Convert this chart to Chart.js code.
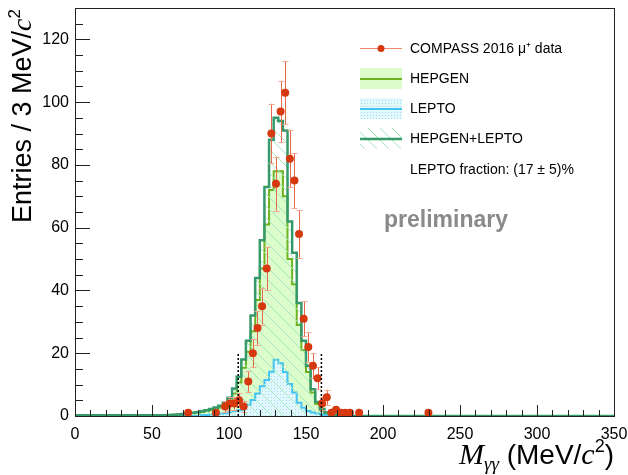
<!DOCTYPE html>
<html>
<head>
<meta charset="utf-8">
<script src="https://cdn.jsdelivr.net/npm/chart.js@4.4.1/dist/chart.umd.min.js"></script>
<style>
  html, body { margin: 0; padding: 0; background: #fff; }
  #wrap { width: 628px; height: 475px; }
</style>
</head>
<body>
<div id="wrap"><canvas id="myChart" width="628" height="475"></canvas></div>
<script>
// measured two-photon mass spectrum (bin centres, entries, errors)
var dataMass = [73.5, 91.5, 97.5, 100.5, 103.5, 106.5, 109.5, 112.5, 115.5, 118.5, 121.5, 124.5,
  127.5, 130.5, 133.5, 136.5, 139.5, 142.5, 145.5, 148.5, 151.5, 154.5, 157.5, 160.5,
  163.5, 166.5, 169.5, 172.5, 175.5, 178.5, 184.5, 229.5];
var dataCounts = [1, 1, 3, 4, 4, 5, 3, 11, 20, 28, 35, 47,
  90, 74, 97, 103, 82, 75, 58, 31, 22, 16, 12, 4,
  6, 1, 2, 1, 1, 1, 1, 1];
var dataErrors = [1, 1, 1.7, 2, 2, 2.2, 1.7, 3.3, 4.5, 5.3, 5.9, 6.9,
  9.5, 8.6, 9.8, 10.1, 9.1, 8.7, 7.6, 5.6, 4.7, 4, 3.5, 2,
  2.4, 1, 1.4, 1, 1, 1, 1, 1];

// simulation histograms, 3 MeV bins starting at 60 MeV
var binWidth = 3;
var mcStart = 60;
var hepgen = [0.2, 0.3, 0.4, 0.5, 0.6, 0.8, 0.9, 1.1, 1.3, 1.6,
  1.9, 2.3, 2.7, 3.4, 4.6, 7.2, 10.7, 15.4, 20.5, 27,
  37, 47, 61, 72, 78, 78, 70, 50, 42, 29,
  21, 14, 7.5, 3.8, 1.8, 0.9, 0.5, 0.3, 0.2, 0.1];
var lepto = [0, 0, 0, 0, 0, 0, 0, 0, 0.2, 0.3,
  0.4, 0.5, 0.7, 0.9, 1.2, 1.6, 1.8, 2.6, 3.6, 5.1,
  7.2, 9.5, 11.5, 14.1, 17.9, 16.8, 14, 10.2, 7.5, 4.2,
  2.6, 1.6, 1.1, 0.8, 0.4, 0.2, 0.1, 0, 0, 0];
var hepgenLepto = [0.2, 0.3, 0.4, 0.5, 0.6, 0.8, 1.0, 1.2, 1.5, 1.8,
  2.2, 2.7, 3.3, 4.2, 5.8, 8.8, 12.5, 18, 24, 32,
  44, 56, 73, 88, 95, 94, 91, 62, 52, 36,
  24, 16, 8.5, 4.5, 2.2, 1.1, 0.6, 0.3, 0.2, 0.1];

// signal window markers
var windowEdges = [106, 160];
var windowHeight = 20;

var xTicks = [0, 50, 100, 150, 200, 250, 300, 350];
var yTicks = [0, 20, 40, 60, 80, 100, 120];

var SANS = '"Liberation Sans", Arial, Helvetica, sans-serif';
var SERIF = '"Liberation Serif", "Times New Roman", serif';

var C_OLIVE = '#6db31f';
var C_GREEN = '#35996a';
var C_CYAN = '#45c3f2';
var C_RED = '#d6390f';
var C_FILL = '#dcfccb';

function stepPoints(values) {
  var pts = [{x: 0, y: 0}];
  for (var i = 0; i < values.length; i++) {
    pts.push({x: mcStart + i * binWidth, y: values[i]});
  }
  pts.push({x: mcStart + values.length * binWidth, y: 0});
  pts.push({x: 350, y: 0});
  return pts;
}

var canvas = document.getElementById('myChart');
var ctx = canvas.getContext('2d');

function hatchPattern() {
  var c = document.createElement('canvas');
  c.width = 12; c.height = 12;
  var g = c.getContext('2d');
  g.strokeStyle = '#a2e8bd';
  g.lineWidth = 1;
  g.beginPath();
  g.moveTo(0, 0); g.lineTo(12, 12);
  g.moveTo(-6, 6); g.lineTo(6, 18);
  g.moveTo(6, -6); g.lineTo(18, 6);
  g.stroke();
  return ctx.createPattern(c, 'repeat');
}

function dotPattern() {
  var c = document.createElement('canvas');
  c.width = 3; c.height = 3;
  var g = c.getContext('2d');
  g.fillStyle = '#e2f8fd';
  g.fillRect(0, 0, 3, 3);
  g.fillStyle = '#9fdff5';
  g.fillRect(1, 1, 1, 1);
  return ctx.createPattern(c, 'repeat');
}

var hatch = hatchPattern();
var dots = dotPattern();

// error bars under the data markers, frame, ticks, titles and legend on top
var decor = {
  id: 'decor',
  beforeDatasetDraw: function (chart, args) {
    if (args.index !== 3) return;
    var g = chart.ctx, xs = chart.scales.x, ys = chart.scales.y;
    g.save();
    g.lineWidth = 1;
    for (var i = 0; i < dataMass.length; i++) {
      var px = Math.round(xs.getPixelForValue(dataMass[i])) + 0.5;
      var yc = ys.getPixelForValue(dataCounts[i]);
      var top = ys.getPixelForValue(dataCounts[i] + dataErrors[i]);
      var bot = ys.getPixelForValue(Math.max(0, dataCounts[i] - dataErrors[i]));
      if (yc - top <= 4.5) continue;
      g.strokeStyle = '#e8694a';
      g.beginPath(); g.moveTo(px, top); g.lineTo(px, bot); g.stroke();
      g.strokeStyle = '#f4a890';
      g.beginPath();
      g.moveTo(px - 3, Math.round(top) + 0.5); g.lineTo(px + 3, Math.round(top) + 0.5);
      g.moveTo(px - 3, Math.round(bot) + 0.5); g.lineTo(px + 3, Math.round(bot) + 0.5);
      g.stroke();
    }
    g.restore();
  },
  afterDraw: function (chart) {
    var g = chart.ctx, a = chart.chartArea, xs = chart.scales.x, ys = chart.scales.y;
    g.save();

    // window markers
    g.strokeStyle = '#000';
    g.lineWidth = 1.5;
    g.setLineDash([2, 2]);
    windowEdges.forEach(function (m) {
      var px = xs.getPixelForValue(m);
      g.beginPath();
      g.moveTo(px, ys.getPixelForValue(0));
      g.lineTo(px, ys.getPixelForValue(windowHeight));
      g.stroke();
    });
    g.setLineDash([]);

    // frame and inner ticks
    g.strokeStyle = '#222';
    g.lineWidth = 1;
    g.strokeRect(a.left + 0.5, a.top + 0.5, a.right - a.left, a.bottom - a.top);
    g.beginPath();
    for (var v = 0; v <= 130; v += 5) {
      var py = Math.round(ys.getPixelForValue(v)) + 0.5;
      g.moveTo(a.left, py);
      g.lineTo(a.left + (v % 20 === 0 ? 15 : 8), py);
    }
    for (var m = 0; m <= 350; m += 10) {
      var px = Math.round(xs.getPixelForValue(m)) + 0.5;
      g.moveTo(px, a.bottom);
      g.lineTo(px, a.bottom - (m % 50 === 0 ? 11 : 6));
    }
    g.stroke();

    // x axis title
    g.fillStyle = '#000';
    g.textBaseline = 'alphabetic';
    var xParts = [
      {t: 'M', f: 'italic 30px ' + SERIF, dy: 0},
      {t: '\u03b3\u03b3', f: 'italic 19px ' + SERIF, dy: 6},
      {t: ' (MeV/', f: '28px ' + SANS, dy: 0},
      {t: 'c', f: 'italic 30px ' + SERIF, dy: 0},
      {t: '2', f: '18px ' + SANS, dy: -12},
      {t: ')', f: '28px ' + SANS, dy: 0}
    ];
    var w = 0;
    xParts.forEach(function (p) { g.font = p.f; p.w = g.measureText(p.t).width; w += p.w; });
    var cx = a.right - w;
    xParts.forEach(function (p) { g.font = p.f; g.fillText(p.t, cx, 464 + p.dy); cx += p.w; });

    // y axis title, rotated, ending at the top of the frame
    var yParts = [
      {t: 'Entries / 3 MeV/', f: '27px ' + SANS, dy: 0},
      {t: 'c', f: 'italic 28px ' + SERIF, dy: 0},
      {t: '2', f: '17px ' + SANS, dy: -11}
    ];
    w = 0;
    yParts.forEach(function (p) { g.font = p.f; p.w = g.measureText(p.t).width; w += p.w; });
    g.save();
    g.translate(31, a.top + 1);
    g.rotate(-Math.PI / 2);
    cx = -w;
    yParts.forEach(function (p) { g.font = p.f; g.fillText(p.t, cx, p.dy); cx += p.w; });
    g.restore();

    // preliminary stamp
    g.font = 'bold 23px ' + SANS;
    g.fillStyle = '#8a8a8a';
    g.textAlign = 'center';
    g.fillText('preliminary', 446, 227);
    g.textAlign = 'left';

    // legend
    var lx = 360, lw = 42, tx = 410;
    g.lineWidth = 1;
    g.strokeStyle = '#f08a6e';
    g.beginPath(); g.moveTo(lx, 48.5); g.lineTo(lx + lw, 48.5); g.stroke();
    g.fillStyle = C_RED;
    g.beginPath(); g.arc(lx + lw / 2, 48.5, 3.5, 0, Math.PI * 2); g.fill();

    g.fillStyle = C_FILL;
    g.fillRect(lx, 68, lw, 21);
    g.strokeStyle = C_OLIVE; g.lineWidth = 2;
    g.beginPath(); g.moveTo(lx, 79); g.lineTo(lx + lw, 79); g.stroke();

    g.fillStyle = dots;
    g.fillRect(lx, 98, lw, 21);
    g.strokeStyle = C_CYAN;
    g.beginPath(); g.moveTo(lx, 109); g.lineTo(lx + lw, 109); g.stroke();

    g.fillStyle = hatch;
    g.fillRect(lx, 128, lw, 21);
    g.strokeStyle = C_GREEN; g.lineWidth = 2.5;
    g.beginPath(); g.moveTo(lx, 139); g.lineTo(lx + lw, 139); g.stroke();

    g.fillStyle = '#000';
    g.font = '14px ' + SANS;
    g.textBaseline = 'middle';
    g.fillText('COMPASS 2016 \u03bc\u207a data', tx, 49);
    g.fillText('HEPGEN', tx, 79);
    g.fillText('LEPTO', tx, 109);
    g.fillText('HEPGEN+LEPTO', tx, 139);
    g.fillText('LEPTO fraction: (17 \u00b1 5)%', tx, 170);

    g.restore();
  }
};

var myChart = new Chart(ctx, {
  type: 'line',
  data: {
    datasets: [{
      label: 'HEPGEN',
      data: stepPoints(hepgen),
      stepped: 'after',
      borderColor: C_OLIVE,
      borderWidth: 2,
      backgroundColor: C_FILL,
      fill: 'origin',
      pointRadius: 0,
      order: 4
    },
    {
      label: 'LEPTO',
      data: stepPoints(lepto),
      stepped: 'after',
      borderColor: C_CYAN,
      borderWidth: 2,
      backgroundColor: dots,
      fill: 'origin',
      pointRadius: 0,
      order: 3
    },
    {
      label: 'HEPGEN+LEPTO',
      data: stepPoints(hepgenLepto),
      stepped: 'after',
      borderColor: C_GREEN,
      borderWidth: 2.5,
      backgroundColor: hatch,
      fill: 'origin',
      pointRadius: 0,
      order: 2
    },
    {
      label: 'COMPASS 2016 \u03bc\u207a data',
      data: dataMass.map(function (m, i) { return {x: m, y: dataCounts[i]}; }),
      showLine: false,
      pointRadius: 4,
      pointBorderWidth: 0,
      pointBackgroundColor: C_RED,
      order: 1
    }]
  },
  options: {
    responsive: false,
    animation: false,
    events: [],
    layout: { padding: { top: 8, right: 14, left: 0, bottom: 0 } },
    plugins: { legend: { display: false }, tooltip: { enabled: false } },
    scales: {
      x: {
        type: 'linear',
        min: 0,
        max: 350,
        border: { display: false },
        grid: { display: false, drawTicks: false },
        ticks: { font: { family: SANS, size: 16 }, color: '#000', padding: 9, maxRotation: 0 },
        afterBuildTicks: function (s) { s.ticks = xTicks.map(function (v) { return {value: v}; }); },
        afterFit: function (s) { s.height = 59; s.paddingLeft = 0; s.paddingRight = 0; }
      },
      y: {
        min: 0,
        max: 130,
        border: { display: false },
        grid: { display: false, drawTicks: false },
        ticks: { font: { family: SANS, size: 16 }, color: '#000', padding: 6 },
        afterBuildTicks: function (s) { s.ticks = yTicks.map(function (v) { return {value: v}; }); },
        afterFit: function (s) { s.width = 75; s.paddingTop = 0; s.paddingBottom = 0; }
      }
    }
  },
  plugins: [decor]
});
</script>
</body>
</html>
